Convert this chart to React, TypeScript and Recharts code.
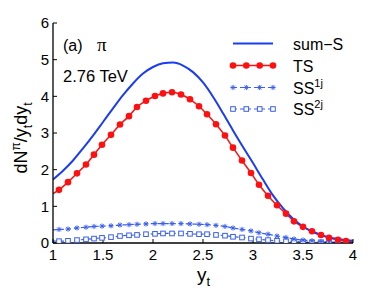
import React from 'react';
import { LineChart, Line, XAxis, YAxis } from 'recharts';

// sum-S (solid blue), sampled every 0.1 in y_t
const sumX = [1.0, 1.1, 1.2, 1.3, 1.4, 1.5, 1.6, 1.7, 1.8, 1.9, 2.0, 2.1, 2.2, 2.3, 2.4, 2.5, 2.6, 2.7, 2.8, 2.9, 3.0, 3.1, 3.2, 3.3, 3.4, 3.5, 3.6, 3.7, 3.8, 3.9, 4.0];
const sumY = [1.73, 1.97, 2.25, 2.58, 2.93, 3.3, 3.67, 4.03, 4.35, 4.62, 4.8, 4.9, 4.92, 4.84, 4.66, 4.38, 3.99, 3.54, 3.07, 2.62, 2.18, 1.73, 1.3, 0.95, 0.66, 0.45, 0.3, 0.2, 0.13, 0.09, 0.06];

// TS (red, dots), first and last points carry no marker
const tsX = [1.0, 1.06, 1.15, 1.24, 1.33, 1.41, 1.49, 1.58, 1.67, 1.76, 1.84, 1.93, 2.02, 2.1, 2.19, 2.28, 2.37, 2.46, 2.54, 2.63, 2.72, 2.8, 2.89, 2.98, 3.06, 3.15, 3.24, 3.33, 3.41, 3.5, 3.59, 3.68, 3.76, 3.85, 3.93, 4.0];
const tsY = [1.35, 1.45, 1.66, 1.9, 2.14, 2.41, 2.68, 2.95, 3.23, 3.46, 3.71, 3.88, 4.01, 4.08, 4.11, 4.05, 3.92, 3.73, 3.51, 3.24, 2.93, 2.6, 2.25, 1.91, 1.59, 1.29, 1.03, 0.8, 0.59, 0.44, 0.32, 0.22, 0.14, 0.09, 0.05, 0.03];

// SS^1j and SS^2j (dashed blue), same sampling as TS
const ssX = tsX;
const ss1Y = [0.36, 0.37, 0.38, 0.41, 0.43, 0.45, 0.46, 0.47, 0.49, 0.5, 0.51, 0.52, 0.53, 0.53, 0.53, 0.53, 0.52, 0.51, 0.5, 0.48, 0.45, 0.41, 0.37, 0.33, 0.28, 0.24, 0.19, 0.15, 0.11, 0.08, 0.06, 0.04, 0.03, 0.02, 0.01, 0.01];
const ss2Y = [0.05, 0.05, 0.06, 0.08, 0.1, 0.12, 0.14, 0.16, 0.19, 0.21, 0.22, 0.24, 0.25, 0.26, 0.26, 0.26, 0.25, 0.24, 0.24, 0.22, 0.2, 0.17, 0.15, 0.12, 0.1, 0.08, 0.06, 0.05, 0.04, 0.03, 0.02, 0.02, 0.01, 0.01, 0.01, 0.01];

const xTicks = [1, 1.5, 2, 2.5, 3, 3.5, 4];
const yTicks = [0, 1, 2, 3, 4, 5, 6];

const sumData = sumX.map((x, i) => ({ x, y: sumY[i] }));
const tsData = tsX.map((x, i) => ({ x, y: tsY[i] }));
const ss1Data = ssX.map((x, i) => ({ x, y: ss1Y[i] }));
const ss2Data = ssX.map((x, i) => ({ x, y: ss2Y[i] }));

const font = '"Liberation Sans", Arial, Helvetica, sans-serif';
const blue = '#1a3cf5';
const ssBlue = '#3a5ef0';
const red = '#ff1010';
const tickStyle = { fill: '#000', fontSize: 15, fontFamily: font };
const axisLine = { stroke: '#000', strokeWidth: 1.3 };

const skipEnds = (n: number) => (i: number) => i === 0 || i === n - 1;

const Asterisk = ({ cx, cy, c }: { cx: number; cy: number; c: string }) => {
  const s = 2.6;
  const d = s * 0.72;
  return (
    <g stroke={c} strokeWidth={1}>
      <line x1={cx - s} x2={cx + s} y1={cy} y2={cy} />
      <line x1={cx} x2={cx} y1={cy - s} y2={cy + s} />
      <line x1={cx - d} x2={cx + d} y1={cy - d} y2={cy + d} />
      <line x1={cx - d} x2={cx + d} y1={cy + d} y2={cy - d} />
    </g>
  );
};

const Square = ({ cx, cy, c }: { cx: number; cy: number; c: string }) => (
  <rect x={cx - 2.3} y={cy - 2.3} width={4.6} height={4.6} fill="#fff" stroke={c} strokeWidth={1} />
);

function tsDot(p: any) {
  if (skipEnds(tsX.length)(p.index)) return <g key={p.index} />;
  return <circle key={p.index} cx={p.cx} cy={p.cy} r={3.3} fill={red} stroke="none" />;
}
function ss1Dot(p: any) {
  if (skipEnds(ssX.length)(p.index)) return <g key={p.index} />;
  return <Asterisk key={p.index} cx={p.cx} cy={p.cy} c={ssBlue} />;
}
function ss2Dot(p: any) {
  if (skipEnds(ssX.length)(p.index)) return <g key={p.index} />;
  return <Square key={p.index} cx={p.cx} cy={p.cy} c={ssBlue} />;
}

function Overlay() {
  const lx1 = 233;
  const lx2 = 273;
  const marks = [233, 246.3, 259.7, 273];
  const rows = [43.5, 65.5, 87.5, 109];
  const tx = 293;
  return (
    <svg width={390} height={294} style={{ position: 'absolute', left: 0, top: 0, pointerEvents: 'none' }}>
      {/* legend */}
      <line x1={lx1} x2={lx2} y1={rows[0]} y2={rows[0]} stroke={blue} strokeWidth={2} />
      <text x={tx} y={rows[0] + 6} fontSize={16} fontFamily={font}>sum−S</text>

      <line x1={lx1} x2={lx2} y1={rows[1]} y2={rows[1]} stroke={red} strokeWidth={1.5} />
      {marks.map((m) => <circle key={m} cx={m} cy={rows[1]} r={3.3} fill={red} />)}
      <text x={tx} y={rows[1] + 6} fontSize={16} fontFamily={font}>TS</text>

      <line x1={lx1} x2={lx2} y1={rows[2]} y2={rows[2]} stroke={ssBlue} strokeWidth={1.2} strokeDasharray="4 3" />
      {marks.map((m) => <Asterisk key={m} cx={m} cy={rows[2]} c={ssBlue} />)}
      <text x={tx} y={rows[2] + 6} fontSize={16} fontFamily={font}>
        SS<tspan fontSize={11} dy={-7}>1j</tspan>
      </text>

      <line x1={lx1} x2={lx2} y1={rows[3]} y2={rows[3]} stroke={ssBlue} strokeWidth={1.2} strokeDasharray="4 3" />
      {marks.map((m) => <Square key={m} cx={m} cy={rows[3]} c={ssBlue} />)}
      <text x={tx} y={rows[3] + 6} fontSize={16} fontFamily={font}>
        SS<tspan fontSize={11} dy={-7}>2j</tspan>
      </text>

      {/* annotations */}
      <text x={63} y={51} fontSize={16} fontFamily={font}>(a)</text>
      <text x={97} y={51} fontSize={19} fontFamily='"Liberation Serif", "DejaVu Serif", serif'>π</text>
      <text x={63} y={82} fontSize={16.5} fontFamily={font}>2.76 TeV</text>

      {/* axis titles */}
      <text x={197} y={281} fontSize={19} fontFamily={font}>
        y<tspan fontSize={13} dy={5}>t</tspan>
      </text>
      <text x={27} y={138} fontSize={18} fontFamily={font} textAnchor="middle" transform="rotate(-90 27 138)">
        dN<tspan fontSize={12} dy={-7}>π</tspan>
        <tspan dy={7}>/y</tspan>
        <tspan fontSize={12} dy={5}>t</tspan>
        <tspan dy={-5}>dy</tspan>
        <tspan fontSize={12} dy={5}>t</tspan>
      </text>
    </svg>
  );
}

export default function App() {
  return (
    <div style={{ position: 'absolute', left: 0, top: 0, width: 390, height: 294, background: '#fff' }}>
      <LineChart width={390} height={294} margin={{ top: 23, right: 37, bottom: 0, left: 0 }}>
        <XAxis
          dataKey="x"
          type="number"
          domain={[1, 4]}
          ticks={xTicks}
          allowDataOverflow
          height={51}
          tickSize={-4}
          tickMargin={10}
          axisLine={axisLine}
          tickLine={{ stroke: '#000' }}
          tick={tickStyle}
          interval={0}
        />
        <XAxis
          xAxisId="top"
          orientation="top"
          dataKey="x"
          type="number"
          domain={[1, 4]}
          ticks={xTicks}
          allowDataOverflow
          height={0}
          tickSize={-4}
          axisLine={axisLine}
          tickLine={{ stroke: '#000' }}
          tick={false}
        />
        <YAxis
          type="number"
          domain={[0, 6]}
          ticks={yTicks}
          allowDataOverflow
          width={53}
          tickSize={-4}
          tickMargin={8}
          axisLine={axisLine}
          tickLine={{ stroke: '#000' }}
          tick={tickStyle}
          interval={0}
        />
        <YAxis
          yAxisId="right"
          orientation="right"
          type="number"
          domain={[0, 6]}
          ticks={yTicks}
          allowDataOverflow
          width={0}
          tickSize={-4}
          axisLine={axisLine}
          tickLine={{ stroke: '#000' }}
          tick={false}
        />
        <Line data={ss2Data} dataKey="y" type="monotone" stroke={ssBlue} strokeWidth={1.2} strokeDasharray="4 3" dot={ss2Dot} isAnimationActive={false} />
        <Line data={ss1Data} dataKey="y" type="monotone" stroke={ssBlue} strokeWidth={1.2} strokeDasharray="4 3" dot={ss1Dot} isAnimationActive={false} />
        <Line data={tsData} dataKey="y" type="monotone" stroke={red} strokeWidth={1.5} dot={tsDot} isAnimationActive={false} />
        <Line data={sumData} dataKey="y" type="monotone" stroke={blue} strokeWidth={2} dot={false} isAnimationActive={false} />
      </LineChart>
      <Overlay />
    </div>
  );
}
